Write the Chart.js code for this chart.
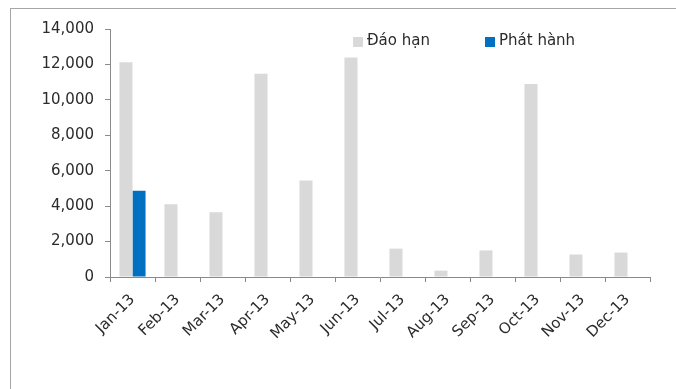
<!DOCTYPE html>
<html>
<head>
<meta charset="utf-8">
<script src="https://cdn.jsdelivr.net/npm/chart.js@4"></script>
<style>
    html, body { margin: 0; padding: 0; background: #fff; overflow: hidden; }
    #wrap { position: relative; width: 676px; height: 389px; overflow: hidden; }
    #frame { position: absolute; left: 10px; top: 8px; width: 720px; height: 420px; border-left: 1px solid #a6a6a6; border-top: 1px solid #a6a6a6; }
    #chart { position: absolute; left: 0; top: 0; }
</style>
</head>
<body>
<div id="wrap">
    <div id="frame"></div>
    <canvas id="chart" width="676" height="389"></canvas>
</div>
<script>
var months = ['Jan-13', 'Feb-13', 'Mar-13', 'Apr-13', 'May-13', 'Jun-13',
              'Jul-13', 'Aug-13', 'Sep-13', 'Oct-13', 'Nov-13', 'Dec-13'];
var daoHan = [12130, 4100, 3650, 11470, 5450, 12390, 1600, 360, 1500, 10890, 1270, 1380];
var phatHanh = [4870, null, null, null, null, null, null, null, null, null, null, null];
var yTicks = [0, 2000, 4000, 6000, 8000, 10000, 12000, 14000];

var FONT = '"DejaVu Sans", sans-serif';
var TEXT = '#2b2b2b';
var AXIS = '#8a8a8a';

// legend drawn inside the plot, like the excel one
var insideLegend = {
    id: 'insideLegend',
    afterDraw: function(chart, args, opts) {
        var ctx = chart.ctx, x = opts.x;
        ctx.save();
        ctx.font = opts.size + 'px ' + FONT;
        ctx.textBaseline = 'middle';
        chart.data.datasets.forEach(function(ds, i) {
            var lx = x + i * opts.step;
            ctx.fillStyle = ds.backgroundColor;
            ctx.fillRect(lx, opts.y - 5, 10, 10);
            ctx.fillStyle = TEXT;
            ctx.fillText(ds.label, lx + 14, opts.y - 1);
        });
        ctx.restore();
    }
};

var chart = new Chart(document.getElementById('chart'), {
    type: 'bar',
    data: {
        labels: months,
        datasets: [{
            label: 'Đáo hạn',
            data: daoHan,
            backgroundColor: '#d9d9d9',
            categoryPercentage: 0.58,
            barPercentage: 1
        }, {
            label: 'Phát hành',
            data: phatHanh,
            backgroundColor: '#0070c0',
            categoryPercentage: 0.58,
            barPercentage: 1
        }]
    },
    options: {
        responsive: false,
        animation: false,
        layout: { padding: { left: 0, top: 29, right: 26, bottom: 0 } },
        plugins: {
            legend: { display: false },
            tooltip: { enabled: false },
            insideLegend: { x: 353, y: 42, step: 132, size: 15 }
        },
        scales: {
            x: {
                offset: true,
                grid: { display: true, offset: true, drawOnChartArea: false, drawTicks: true, tickLength: 5, color: AXIS },
                border: { color: AXIS },
                ticks: {
                    color: TEXT,
                    font: { family: FONT, size: 15 },
                    minRotation: 45,
                    maxRotation: 45,
                    padding: 9
                },
                afterFit: function(scale) { scale.height = 112; }
            },
            y: {
                min: 0,
                max: 14000,
                afterBuildTicks: function(scale) {
                    scale.ticks = yTicks.map(function(v) { return { value: v }; });
                },
                grid: { display: true, drawOnChartArea: false, drawTicks: true, tickLength: 5, color: AXIS },
                border: { color: AXIS },
                ticks: {
                    color: TEXT,
                    font: { family: FONT, size: 15 },
                    padding: 11,
                    callback: function(v) { return v.toLocaleString('en-US'); }
                },
                afterFit: function(scale) { scale.width = 110; }
            }
        }
    },
    plugins: [insideLegend]
});
</script>
</body>
</html>
